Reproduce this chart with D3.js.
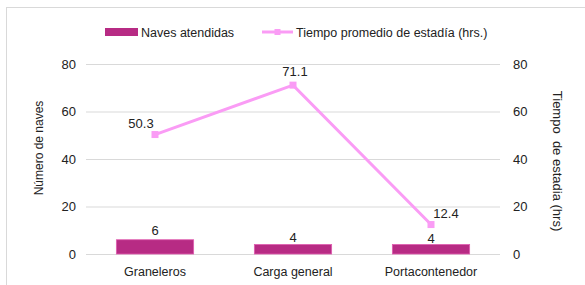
<!DOCTYPE html>
<html><head><meta charset="utf-8">
<script src="https://cdn.jsdelivr.net/npm/d3@7"></script>
<style>body{margin:0;background:#fff;font-family:"Liberation Sans",Arial,sans-serif;}</style>
</head><body>
<svg id="c" width="585" height="285"></svg>
<script>
const categories = ["Graneleros", "Carga general", "Portacontenedor"];
const naves = [6, 4, 4];
const tiempo = [50.3, 71.1, 12.4];
const leftTicks = [0, 20, 40, 60, 80];
const rightTicks = [0, 20, 40, 60, 80];
const seriesNames = ["Naves atendidas", "Tiempo promedio de estadía (hrs.)"];
const lineLabelOffsets = [[-14, -6.5], [2, -9], [15, -6.5]];
const barLabelOffsets = [-5, -3, -1.5];

const svg = d3.select("#c");
const font = "Liberation Sans, Arial, sans-serif";
const barColor = "#b72b84", lineColor = "#fa9cf5";
const m = {l: 86, r: 500, t: 64, b: 254};

svg.append("rect").attr("x", 6.5).attr("y", 7.5).attr("width", 600).attr("height", 300)
  .attr("fill", "none").attr("stroke", "#d9d9d9");

const x = d3.scaleBand().domain(categories).range([m.l, m.r]).paddingInner(0.44).paddingOuter(0.22);
const yL = d3.scaleLinear().domain([0, 80]).range([m.b, m.t]);
const yR = d3.scaleLinear().domain([0, 80]).range([m.b, m.t]);

// gridlines
svg.append("g").selectAll("line").data(leftTicks).join("line")
  .attr("x1", m.l).attr("x2", m.r).attr("y1", d => yL(d) + 0.5).attr("y2", d => yL(d) + 0.5)
  .attr("stroke", "#d9d9d9").attr("stroke-width", 1);

// left axis
const gl = svg.append("g").attr("transform", `translate(${m.l - 7},0)`)
  .call(d3.axisLeft(yL).tickValues(leftTicks).tickSize(0).tickPadding(3));
gl.select(".domain").remove();
gl.selectAll("text").attr("font-family", font).attr("font-size", 13).attr("fill", "#222");

// right axis
const gr = svg.append("g").attr("transform", `translate(${m.r + 10},0)`)
  .call(d3.axisRight(yR).tickValues(rightTicks).tickSize(0).tickPadding(3));
gr.select(".domain").remove();
gr.selectAll("text").attr("font-family", font).attr("font-size", 13).attr("fill", "#222");

// bottom axis
const gb = svg.append("g").attr("transform", `translate(0,${m.b})`)
  .call(d3.axisBottom(x).tickSize(0).tickPadding(13));
gb.select(".domain").remove();
gb.selectAll("text").attr("font-family", font).attr("font-size", 12.5).attr("fill", "#222");

// axis titles
svg.append("text").attr("transform", `translate(43,148) rotate(-90)`).attr("text-anchor", "middle")
  .attr("font-family", font).attr("font-size", 12).attr("fill", "#222").text("Número de naves");
svg.append("text").attr("transform", `translate(553,161) rotate(90)`).attr("text-anchor", "middle")
  .attr("font-family", font).attr("font-size", 13).attr("fill", "#222").attr("xml:space", "preserve")
  .text("Tiempo  de estadia (hrs)");

// bars
svg.append("g").selectAll("rect").data(naves).join("rect")
  .attr("x", (d, i) => x(categories[i])).attr("width", x.bandwidth())
  .attr("y", d => yL(d)).attr("height", d => yL(0) - yL(d))
  .attr("fill", barColor).attr("stroke", "#e05cb0").attr("stroke-width", 0.8);
svg.append("g").selectAll("text").data(naves).join("text")
  .attr("x", (d, i) => x(categories[i]) + x.bandwidth() / 2).attr("y", (d, i) => yL(d) + barLabelOffsets[i])
  .attr("text-anchor", "middle").attr("font-family", font).attr("font-size", 13).attr("fill", "#222")
  .text(d => d);

// line
const cx = i => x(categories[i]) + x.bandwidth() / 2;
svg.append("path").datum(tiempo)
  .attr("d", d3.line().x((d, i) => cx(i)).y(d => yR(d)))
  .attr("fill", "none").attr("stroke", lineColor).attr("stroke-width", 3);
svg.append("g").selectAll("rect").data(tiempo).join("rect")
  .attr("x", (d, i) => cx(i) - 3.5).attr("y", d => yR(d) - 3.5).attr("width", 7).attr("height", 7)
  .attr("fill", lineColor);
svg.append("g").selectAll("text").data(tiempo).join("text")
  .attr("x", (d, i) => cx(i) + lineLabelOffsets[i][0]).attr("y", (d, i) => yR(d) + lineLabelOffsets[i][1])
  .attr("text-anchor", "middle").attr("font-family", font).attr("font-size", 13).attr("fill", "#222")
  .text(d => d.toFixed(1));

// legend
const lg = svg.append("g");
lg.append("rect").attr("x", 105).attr("y", 28).attr("width", 33).attr("height", 8).attr("fill", barColor);
lg.append("text").attr("x", 141).attr("y", 36.5).attr("font-family", font).attr("font-size", 12.5).attr("fill", "#222").text(seriesNames[0]);
lg.append("line").attr("x1", 262).attr("x2", 293).attr("y1", 32).attr("y2", 32).attr("stroke", lineColor).attr("stroke-width", 3);
lg.append("rect").attr("x", 274.5).attr("y", 29).attr("width", 6).attr("height", 6).attr("fill", lineColor);
lg.append("text").attr("x", 296).attr("y", 36.5).attr("font-family", font).attr("font-size", 12.5).attr("fill", "#222").text(seriesNames[1]);
</script>
</body></html>
